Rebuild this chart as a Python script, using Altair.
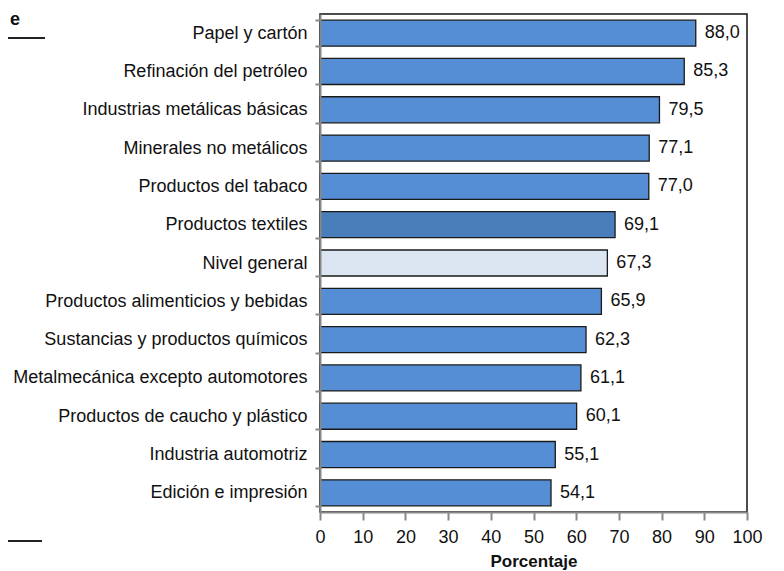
import altair as alt
import pandas as pd

categories = [
    "Papel y cartón",
    "Refinación del petróleo",
    "Industrias metálicas básicas",
    "Minerales no metálicos",
    "Productos del tabaco",
    "Productos textiles",
    "Nivel general",
    "Productos alimenticios y bebidas",
    "Sustancias y productos químicos",
    "Metalmecánica excepto automotores",
    "Productos de caucho y plástico",
    "Industria automotriz",
    "Edición e impresión",
]
values = [88.0, 85.3, 79.5, 77.1, 77.0, 69.1, 67.3, 65.9, 62.3, 61.1, 60.1, 55.1, 54.1]
groups = ["normal"] * 5 + ["textil", "general"] + ["normal"] * 6
x_ticks = [0, 10, 20, 30, 40, 50, 60, 70, 80, 90, 100]

df = pd.DataFrame({"cat": categories, "val": values, "grp": groups})
df["lbl"] = [f"{v:.1f}".replace(".", ",") for v in values]

FONT = "Liberation Sans"

y_enc = alt.Y(
    "cat:N",
    sort=categories,
    title=None,
    scale=alt.Scale(paddingInner=0.32, paddingOuter=0.16),
    axis=alt.Axis(
        labelFont=FONT, labelFontSize=18, labelColor="#111", labelLimit=400,
        labelPadding=8, tickBand="extent", tickSize=5, tickColor="#888",
        tickWidth=2, domainColor="#888", domainWidth=2, zindex=1,
    ),
)
x_enc = alt.X(
    "val:Q",
    scale=alt.Scale(domain=[0, 100], nice=False),
    title="Porcentaje",
    axis=alt.Axis(
        values=x_ticks, labelFont=FONT, labelFontSize=18, labelColor="#111",
        labelPadding=8, labelFlush=False, labelOverlap=False,
        tickSize=8, tickColor="#888", tickWidth=2,
        domainColor="#888", domainWidth=2, grid=False, zindex=1,
        titleFont=FONT, titleFontSize=17, titleFontWeight="bold",
        titleColor="#111", titlePadding=7,
    ),
)

bars = alt.Chart(df).mark_bar(stroke="#1a1a1a", strokeWidth=1.3).encode(
    y=y_enc,
    x=x_enc,
    color=alt.Color(
        "grp:N",
        scale=alt.Scale(domain=["normal", "textil", "general"],
                        range=["#558ED5", "#4A7EBB", "#DCE6F2"]),
        legend=None,
    ),
)

labels = alt.Chart(df).mark_text(
    align="left", baseline="middle", dx=9, font=FONT, fontSize=18, color="#111"
).encode(y=alt.Y("cat:N", sort=categories), x="val:Q", text="lbl:N")

frag = alt.Chart(pd.DataFrame({"t": ["e"]})).mark_text(
    align="right", baseline="top", font=FONT, fontSize=18, fontWeight="bold", color="#111"
).encode(x=alt.value(-300), y=alt.value(-3), text="t:N")

line_top = alt.Chart(pd.DataFrame({"a": [0]})).mark_rule(color="#222", strokeWidth=2).encode(
    x=alt.value(-320), x2=alt.value(-275), y=alt.value(24)
)
line_bot = alt.Chart(pd.DataFrame({"a": [0]})).mark_rule(color="#222", strokeWidth=2).encode(
    x=alt.value(-320), x2=alt.value(-278), y=alt.value(527)
)

chart = alt.layer(bars, labels, frag, line_top, line_bot).properties(
    width=427, height=498,
    autosize=alt.AutoSizeParams(type="none"),
    padding={"left": 312, "top": 6, "right": 20, "bottom": 60},
).configure_view(stroke="#111", strokeWidth=1.5)

chart.save("out.html", embed_options={"renderer": "svg", "actions": False})
